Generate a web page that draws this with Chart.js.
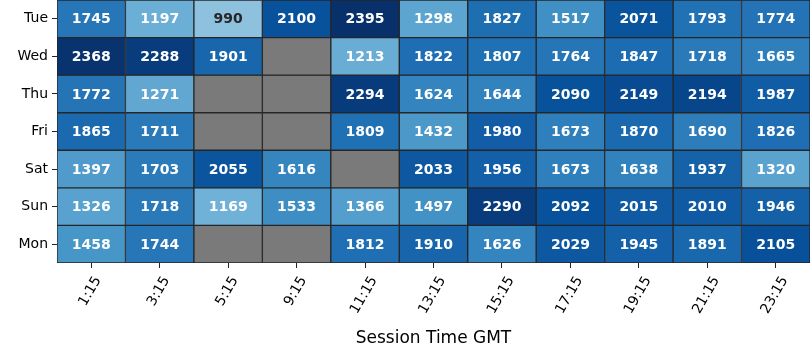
<!DOCTYPE html>
<html>
<head>
<meta charset="utf-8">
<script src="https://cdn.jsdelivr.net/npm/chart.js@4.4.1/dist/chart.umd.min.js"></script>
<style>
  html, body { margin: 0; padding: 0; background: #fff; }
  #wrap { width: 810px; height: 360px; }
</style>
</head>
<body>
<div id="wrap"><canvas id="heat"></canvas></div>
<script>
// heatmap data (null = no session)
const days = ["Tue", "Wed", "Thu", "Fri", "Sat", "Sun", "Mon"];
const times = ["1:15", "3:15", "5:15", "9:15", "11:15", "13:15", "15:15", "17:15", "19:15", "21:15", "23:15"];
const tue = [1745, 1197, 990, 2100, 2395, 1298, 1827, 1517, 2071, 1793, 1774];
const wed = [2368, 2288, 1901, null, 1213, 1822, 1807, 1764, 1847, 1718, 1665];
const thu = [1772, 1271, null, null, 2294, 1624, 1644, 2090, 2149, 2194, 1987];
const fri = [1865, 1711, null, null, 1809, 1432, 1980, 1673, 1870, 1690, 1826];
const sat = [1397, 1703, 2055, 1616, null, 2033, 1956, 1673, 1638, 1937, 1320];
const sun = [1326, 1718, 1169, 1533, 1366, 1497, 2290, 2092, 2015, 2010, 1946];
const mon = [1458, 1744, null, null, 1812, 1910, 1626, 2029, 1945, 1891, 2105];
const rows = [tue, wed, thu, fri, sat, sun, mon];

const vmin = 0;
const vmax = 2395;

//matplotlib "Blues" anchors
const blues = [
  [247, 251, 255], [222, 235, 247], [198, 219, 239], [158, 202, 225],
  [107, 174, 214], [66, 146, 198], [33, 113, 181], [8, 81, 156], [8, 48, 107]
];

const bluesAt = (t) => {
  t = Math.max(0, Math.min(1, t));
  const pos = t * (blues.length - 1);
  const i = Math.min(Math.floor(pos), blues.length - 2);
  const f = pos - i;
  return blues[i].map((c, k) => Math.round(c + (blues[i + 1][k] - c) * f));
};

const luminance = (rgb) => {
  const lin = rgb.map((c) => {
    c = c / 255;
    return c <= 0.03928 ? c / 12.92 : Math.pow((c + 0.055) / 1.055, 2.4);
  });
  return 0.2126 * lin[0] + 0.7152 * lin[1] + 0.0722 * lin[2];
};

const cellRgb = (v) => (v === null ? null : bluesAt((v - vmin) / (vmax - vmin)));

const datasets = rows.map((row, r) => ({
  label: days[r],
  data: row.map(() => 1),
  values: row,
  backgroundColor: row.map((v) => {
    const c = cellRgb(v);
    return c ? `rgb(${c[0]},${c[1]},${c[2]})` : "#7a7a7a";
  }),
  borderColor: "#262626",
  borderWidth: 1,
  borderSkipped: false,
  categoryPercentage: 1,
  barPercentage: 1,
}));

//cell numbers + rotated x labels
const annotate = {
  id: "annotate",
  afterDatasetsDraw(chart) {
    const ctx = chart.ctx;
    ctx.save();
    ctx.font = "bold 14px 'DejaVu Sans'";
    ctx.textAlign = "center";
    ctx.textBaseline = "middle";
    chart.data.datasets.forEach((ds, i) => {
      chart.getDatasetMeta(i).data.forEach((bar, j) => {
        const v = ds.values[j];
        if (v === null) return;
        ctx.fillStyle = luminance(cellRgb(v)) > 0.408 ? "#262626" : "#ffffff";
        ctx.fillText(String(v), bar.x, (bar.y + bar.base) / 2 + 1);
      });
    });
    ctx.restore();
  },
  afterDraw(chart) {
    const ctx = chart.ctx;
    const x = chart.scales.x;
    const ang = (60 * Math.PI) / 180;
    const top = chart.chartArea.bottom + 12;
    ctx.save();
    ctx.font = "14px 'DejaVu Sans'";
    ctx.fillStyle = "#000";
    ctx.textAlign = "center";
    ctx.textBaseline = "middle";
    times.forEach((t, i) => {
      const w = ctx.measureText(t).width;
      const h = 11;
      const H = w * Math.sin(ang) + h * Math.cos(ang);
      ctx.save();
      ctx.translate(x.getPixelForValue(i) - 1, top + H / 2);
      ctx.rotate(-ang);
      ctx.fillText(t, 0, 0);
      ctx.restore();
    });
    ctx.restore();
  },
};

new Chart("heat", {
  type: "bar",
  data: { labels: times, datasets: datasets },
  options: {
    responsive: true,
    maintainAspectRatio: false,
    animation: false,
    devicePixelRatio: 1,
    layout: { padding: 0 },
    plugins: { legend: { display: false }, tooltip: { enabled: false } },
    scales: {
      x: {
        stacked: true,
        offset: true,
        grid: { offset: false, drawOnChartArea: false, drawTicks: true, tickLength: 5, color: "#222" },
        border: { display: false },
        ticks: { color: "rgba(0,0,0,0)", font: { size: 14, family: "DejaVu Sans" }, minRotation: 60, maxRotation: 60 },
        title: {
          display: true,
          text: "Session Time GMT",
          color: "#000",
          font: { size: 17, family: "DejaVu Sans" },
          padding: { top: 0, bottom: 11 },
        },
        afterFit: (scale) => {
          scale.height = 97;
          scale.paddingLeft = 0;
          scale.paddingRight = 0;
        },
      },
      y: {
        stacked: true,
        reverse: true,
        min: 0,
        max: 7,
        afterBuildTicks: (scale) => {
          scale.ticks = days.map((d, i) => ({ value: i + 0.5 }));
        },
        grid: { drawOnChartArea: false, drawTicks: true, tickLength: 5, color: "#222" },
        border: { display: false },
        ticks: {
          color: "#000",
          padding: 4,
          font: { size: 14, family: "DejaVu Sans" },
          callback: (v) => days[Math.floor(v)],
        },
        afterFit: (scale) => {
          scale.width = 57;
          scale.paddingTop = 0;
          scale.paddingBottom = 0;
        },
      },
    },
  },
  plugins: [annotate],
});
</script>
</body>
</html>
